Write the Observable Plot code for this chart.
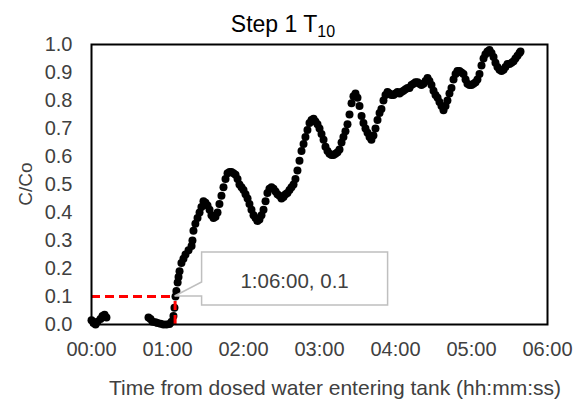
<!DOCTYPE html>
<html><head><meta charset="utf-8">
<script src="https://cdn.jsdelivr.net/npm/d3@7"></script>
<script src="https://cdn.jsdelivr.net/npm/@observablehq/plot@0.6"></script>
<style>
body{margin:0;background:#fff}
svg{font-family:"Liberation Sans",Arial,sans-serif}
</style>
</head><body><div id="chart"></div>
<script>
// Elapsed time in minutes since dosed water entered the tank
const minutes = [
  0.0, 1.6, 3.2, 4.7, 7.1, 8.7, 10.3, 11.8,
  45.0, 46.6, 48.2, 50.5, 52.1, 54.5, 56.8, 59.2, 61.6, 63.2, 64.7, 65.5, 66.3, 67.0, 68.0, 68.7, 69.5,
  71.0, 72.6, 74.2, 76.6, 79.0, 79.7, 80.5, 82.0, 83.7, 85.3, 86.8, 88.4, 90.0, 91.6, 93.2, 94.7,
  96.3, 97.9, 99.5, 101.0, 102.6, 104.2, 105.8, 107.4, 109.0, 110.5, 112.1, 113.7, 115.3, 116.8,
  118.4, 120.0, 121.6, 123.2, 124.7, 126.3, 127.9, 129.5, 131.0, 132.6, 134.2, 135.8, 137.4, 138.9,
  140.5, 142.1, 143.7, 145.3, 146.8, 148.4, 150.0, 151.6, 153.2, 154.7, 156.3, 157.9, 159.5, 161.0,
  162.6, 164.2, 165.8, 167.4, 168.9, 170.5, 172.1, 173.7, 175.3, 176.8, 178.4, 180.0, 181.6, 183.2,
  184.7, 186.3, 187.9, 189.5, 191.0, 192.6, 194.2, 195.8, 197.4, 198.9, 200.5, 202.1, 203.7, 205.3,
  206.8, 208.4, 210.0, 211.6, 213.2, 214.7, 216.3, 217.9, 219.5, 221.0, 222.6, 224.2, 225.8, 227.4,
  228.9, 230.5, 232.1, 233.7, 235.3, 236.8, 238.4, 240.0, 241.6, 243.2, 244.7, 246.3, 247.9, 249.5,
  251.0, 252.6, 254.2, 255.8, 257.4, 258.9, 260.5, 262.1, 263.7, 265.3, 266.8, 268.4, 270.0, 271.6,
  273.2, 274.7, 276.3, 277.9, 279.5, 281.0, 282.6, 284.2, 285.8, 287.4, 288.9, 290.5, 292.1, 293.7,
  295.3, 296.8, 298.4, 300.0, 301.6, 303.2, 304.7, 306.3, 307.9, 309.5, 311.0, 312.6, 314.2, 315.8,
  317.4, 318.9, 320.5, 322.1, 323.7, 325.3, 326.8, 328.4, 330.0, 331.6, 333.2, 334.7, 336.3, 337.9, 338.7
];
// C/Co
const ratio = [
  0.015, 0.005, 0.0, 0.01, 0.02, 0.03, 0.035, 0.025,
  0.025, 0.02, 0.01, 0.008, 0.005, 0.003, 0.0, 0.0, 0.002, 0.01, 0.03, 0.06, 0.1, 0.12, 0.15, 0.17, 0.19,
  0.22, 0.235, 0.25, 0.265, 0.28, 0.30, 0.335, 0.36, 0.38, 0.40, 0.42, 0.44, 0.435, 0.425, 0.41, 0.39,
  0.38, 0.385, 0.40, 0.43, 0.46, 0.49, 0.52, 0.54, 0.545, 0.545, 0.54, 0.535, 0.52, 0.50,
  0.49, 0.48, 0.465, 0.45, 0.43, 0.41, 0.39, 0.38, 0.37, 0.375, 0.39, 0.41, 0.44, 0.47,
  0.485, 0.49, 0.485, 0.475, 0.465, 0.46, 0.45, 0.455, 0.465, 0.47, 0.48, 0.49, 0.50, 0.52,
  0.55, 0.585, 0.62, 0.645, 0.67, 0.695, 0.72, 0.73, 0.735, 0.725, 0.715, 0.70, 0.68, 0.66,
  0.635, 0.62, 0.61, 0.605, 0.605, 0.61, 0.615, 0.625, 0.65, 0.67, 0.69, 0.715, 0.75, 0.79,
  0.815, 0.825, 0.81, 0.78, 0.745, 0.72, 0.70, 0.685, 0.67, 0.66, 0.675, 0.70, 0.73, 0.755,
  0.77, 0.80, 0.82, 0.83, 0.825, 0.82, 0.82, 0.825, 0.83, 0.825, 0.83, 0.835, 0.84, 0.845,
  0.845, 0.855, 0.86, 0.865, 0.865, 0.86, 0.855, 0.86, 0.87, 0.88, 0.87, 0.855, 0.835, 0.82,
  0.81, 0.795, 0.78, 0.765, 0.78, 0.80, 0.825, 0.845, 0.875, 0.895, 0.905, 0.905, 0.90, 0.895,
  0.875, 0.86, 0.855, 0.855, 0.86, 0.865, 0.875, 0.895, 0.925, 0.95, 0.965, 0.975, 0.98, 0.97,
  0.955, 0.935, 0.92, 0.91, 0.905, 0.91, 0.92, 0.93, 0.93, 0.935, 0.94, 0.95, 0.96, 0.97, 0.975
];
const xTicks = [0, 60, 120, 180, 240, 300, 360];
const xTickLabels = ["00:00", "01:00", "02:00", "03:00", "04:00", "05:00", "06:00"];
const yTicks = [0, 0.1, 0.2, 0.3, 0.4, 0.5, 0.6, 0.7, 0.8, 0.9, 1.0];
const yTickLabels = ["0.0", "0.1", "0.2", "0.3", "0.4", "0.5", "0.6", "0.7", "0.8", "0.9", "1.0"];
const annotationTime = 66;      // 1:06:00
const annotationValue = 0.1;
const annotationLabel = "1:06:00, 0.1";
const titleMain = "Step 1 T";
const titleSub = "10";
const xLabel = "Time from dosed water entering tank (hh:mm:ss)";
const yLabel = "C/Co";

const data = minutes.map((t, i) => ({t, v: ratio[i]}));

const callout = (index, scales) => {
  const px = scales.x(annotationTime), py = scales.y(annotationValue);
  const g = d3.create("svg:g");
  const L = px + 27, R = px + 213, T = py - 44, B = py + 9;
  g.append("path")
    .attr("d", `M${px},${py} L${L},${py - 14} L${L},${T} L${R},${T} L${R},${B} L${L},${B} L${L},${py} Z`)
    .attr("fill", "white").attr("stroke", "#bfbfbf").attr("stroke-width", 1.5);
  g.append("text")
    .attr("x", (L + R) / 2).attr("y", py - 8)
    .attr("text-anchor", "middle").attr("font-size", 20.5).attr("fill", "#404040")
    .text(annotationLabel);
  return g.node();
};

const plot = Plot.plot({
  width: 580, height: 405,
  marginLeft: 91, marginRight: 33, marginTop: 44, marginBottom: 81,
  style: {fontFamily: '"Liberation Sans", Arial, sans-serif', fontSize: "20px", color: "#404040", background: "white", overflow: "visible"},
  x: {domain: [0, 360], ticks: xTicks, tickFormat: d => xTickLabels[xTicks.indexOf(d)], tickSize: 0, tickPadding: 17, label: null},
  y: {domain: [0, 1], ticks: yTicks, tickFormat: d => yTickLabels[yTicks.indexOf(d)], tickSize: 0, tickPadding: 19, label: null},
  marks: [
    Plot.dot(data, {x: "t", y: "v", r: 4, fill: "black"}),
    Plot.ruleY([annotationValue], {x1: 0, x2: annotationTime, stroke: "#ff0000", strokeWidth: 3, strokeDasharray: "9,5"}),
    Plot.ruleX([annotationTime], {y1: 0, y2: annotationValue, stroke: "#ff0000", strokeWidth: 3, strokeDasharray: "9,5"}),
    callout,
    Plot.frame({stroke: "black", strokeWidth: 2})
  ]
});

const svg = d3.select(plot);
const t = svg.append("text").attr("x", 283).attr("y", 32).attr("text-anchor", "middle")
  .attr("font-size", 23).attr("fill", "#000");
t.append("tspan").text(titleMain);
t.append("tspan").attr("font-size", 16).attr("dy", 5).text(titleSub);
svg.append("text").attr("x", 335).attr("y", 395).attr("text-anchor", "middle")
  .attr("font-size", 21).attr("fill", "#404040").text(xLabel);
svg.append("text").attr("transform", "translate(32,184) rotate(-90)").attr("text-anchor", "middle")
  .attr("font-size", 19).attr("fill", "#404040").text(yLabel);

document.getElementById("chart").append(plot);
</script>
</body></html>
